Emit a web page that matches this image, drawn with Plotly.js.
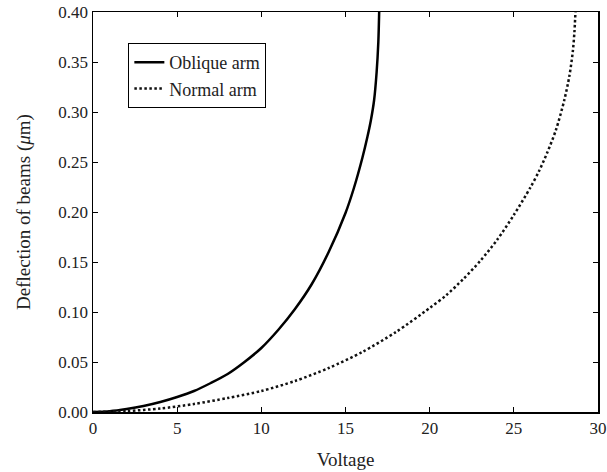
<!DOCTYPE html>
<html>
<head>
<meta charset="utf-8">
<script src="https://cdn.plot.ly/plotly-3.0.1.min.js"></script>
<style>html,body{margin:0;padding:0;background:#fff;}#chart{width:607px;height:472px;}</style>
</head>
<body>
<div id="chart"></div>
<script>
const obliqueV = [0, 1, 2, 3, 4, 5, 6, 7, 8, 9, 10, 11, 12, 13, 14, 15, 15.5, 16, 16.3, 16.5, 16.7, 16.85, 16.95, 17.0];
const obliqueD = [0, 0.0008, 0.003, 0.006, 0.010, 0.015, 0.021, 0.029, 0.038, 0.050, 0.064, 0.082, 0.103, 0.128, 0.160, 0.199, 0.224, 0.254, 0.275, 0.291, 0.312, 0.340, 0.370, 0.40];
const normalV = [0, 2, 4, 6, 8, 10, 12, 14, 16, 18, 20, 21, 22, 23, 24, 25, 26, 26.5, 27, 27.5, 28, 28.3, 28.5, 28.6, 28.66];
const normalD = [0, 0.001, 0.0035, 0.008, 0.014, 0.021, 0.031, 0.044, 0.060, 0.080, 0.104, 0.117, 0.133, 0.151, 0.172, 0.197, 0.225, 0.241, 0.260, 0.282, 0.312, 0.336, 0.360, 0.380, 0.40];
const seriesNames = ["Oblique arm", "Normal arm"];
const xTicks = [0, 5, 10, 15, 20, 25, 30];
const yTicks = [0, 0.05, 0.10, 0.15, 0.20, 0.25, 0.30, 0.35, 0.40];

const font = {family: "Liberation Serif", size: 17, color: "#222"};
const titleFont = {family: "Liberation Serif", size: 19, color: "#222"};
const legendFont = {family: "Liberation Serif", size: 18, color: "#222"};
const traces = [
  {x: obliqueV, y: obliqueD, name: seriesNames[0], mode: "lines",
   line: {color: "#000", width: 2.5, shape: "spline", smoothing: 0.8}},
  {x: normalV, y: normalD, name: seriesNames[1], mode: "lines",
   line: {color: "#111", width: 2.5, dash: "2.5px,2.5px", shape: "spline", smoothing: 0.8}}
];
const axisCommon = {
  showgrid: false, zeroline: false, showline: true, linecolor: "#000", linewidth: 1.5,
  mirror: "ticks", ticks: "inside", ticklen: 5, tickcolor: "#000", tickwidth: 1,
  tickfont: font, ticklabeloverflow: "allow"
};
const layout = {
  width: 607, height: 472,
  margin: {l: 93, r: 9, t: 12, b: 60},
  paper_bgcolor: "#fff", plot_bgcolor: "#fff",
  font: font,
  showlegend: true,
  legend: {x: 0.07, y: 0.9225, xanchor: "left", yanchor: "top",
           bgcolor: "#fff", bordercolor: "#000", borderwidth: 1,
           font: legendFont, itemwidth: 30, tracegroupgap: 0},
  xaxis: Object.assign({}, axisCommon, {
    range: [0, 30], tickvals: xTicks, ticktext: xTicks.map(String),
    title: {text: "Voltage", font: titleFont, standoff: 16}
  }),
  yaxis: Object.assign({}, axisCommon, {
    range: [0, 0.40], tickvals: yTicks, ticktext: yTicks.map(v => v.toFixed(2)),
    title: {text: "Deflection of beams (<i>μ</i>m)", font: titleFont, standoff: 22}
  })
};
Plotly.newPlot("chart", traces, layout, {displayModeBar: false, staticPlot: true});
</script>
</body>
</html>
